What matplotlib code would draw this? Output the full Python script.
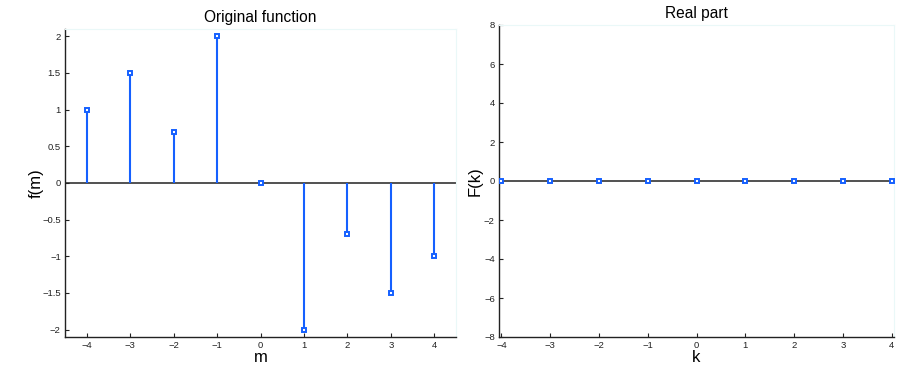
import matplotlib.pyplot as plt
import numpy as np

plt.rcParams['font.family'] = ['Liberation Sans', 'DejaVu Sans']

m = np.arange(-4, 5)
f_m = [1.0, 1.5, 0.7, 2.0, 0.0, -2.0, -0.7, -1.5, -1.0]
k = np.arange(-4, 5)
F_real = [0, 0, 0, 0, 0, 0, 0, 0, 0]

blue = '#1560ff'

fig = plt.figure(figsize=(8.99, 3.66), dpi=100)
ax1 = fig.add_axes([65/899, 1 - 337/366, 391/899, 308/366])
ax2 = fig.add_axes([499/899, 1 - 337/366, 395/899, 312/366])


def minus(vals):
    return [str(v).replace('-', '\u2212') for v in vals]


def stem_plot(ax, x, y):
    ax.axhline(0, color='#333333', lw=1.2, zorder=1)
    ax.vlines(x, 0, y, color=blue, lw=1.5, zorder=2)
    ax.plot(x, y, 's', ms=3.0, mfc='white', mec=blue, mew=1.4, zorder=3)
    for side in ('top', 'right'):
        ax.spines[side].set_color('#eaf8f8')
        ax.spines[side].set_linewidth(0.8)
    for side in ('left', 'bottom'):
        ax.spines[side].set_color('#222222')
        ax.spines[side].set_linewidth(1.0)
    ax.tick_params(direction='in', length=3, width=0.8, labelsize=6.8,
                   colors='#222222', pad=3)


stem_plot(ax1, m, f_m)
ax1.set_xlim(-4.5, 4.5)
ax1.set_ylim(-2.1, 2.1)
ax1.set_xticks(m)
ax1.set_yticks([-2, -1.5, -1, -0.5, 0, 0.5, 1, 1.5, 2])
ax1.set_yticklabels(minus(['-2', '-1.5', '-1', '-0.5', '0', '0.5', '1', '1.5', '2']))
ax1.set_xticklabels(minus(m))
ax1.set_title('Original function', fontsize=11.2, pad=5)
ax1.set_xlabel('m', fontsize=12, labelpad=0)
ax1.set_ylabel('f(m)', fontsize=12, labelpad=-1)

stem_plot(ax2, k, F_real)
ax2.set_xlim(-4.05, 4.05)
ax2.set_ylim(-8, 8)
ax2.set_xticks(k)
ax2.set_yticks([-8, -6, -4, -2, 0, 2, 4, 6, 8])
ax2.set_yticklabels(minus([-8, -6, -4, -2, 0, 2, 4, 6, 8]))
ax2.set_xticklabels(minus(k))
ax2.set_title('Real part', fontsize=11.2, pad=5)
ax2.set_xlabel('k', fontsize=12, labelpad=0)
ax2.set_ylabel('F(k)', fontsize=12, labelpad=1)

fig.savefig('out.png', dpi=100)
